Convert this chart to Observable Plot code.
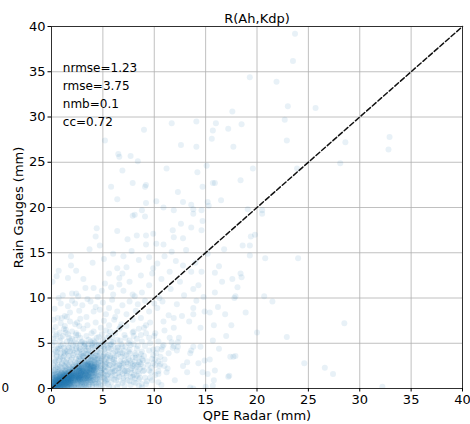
<!DOCTYPE html>
<html>
<head>
<meta charset="utf-8">
<script src="https://cdn.jsdelivr.net/npm/d3@7"></script>
<script src="https://cdn.jsdelivr.net/npm/@observablehq/plot@0.6"></script>
<style>
  body { margin: 0; background: #fff; }
  svg { font-family: "DejaVu Sans", sans-serif; }
</style>
</head>
<body>
<div id="chart"></div>
<script>
// Radar QPE (x, mm) against rain-gauge totals (y, mm), as [radar, gauge] pairs.

// dense core near the origin
const pointsCore = [
  [0.1,0.1],[0.2,0.3],[0.3,0.1],[0.4,0.5],[0.5,0.2],[0.6,0.7],[0.7,0.3],[0.8,0.9],[0.9,0.4],[1.0,0.6],
  [1.1,1.0],[1.2,0.5],[1.3,0.8],[1.4,1.2],[1.5,0.7],[1.6,1.1],[1.7,0.4],[1.8,1.3],[1.9,0.9],[2.0,1.5],
  [0.1,0.6],[0.2,0.9],[0.3,1.2],[0.4,0.2],[0.5,1.0],[0.6,0.3],[0.7,1.1],[0.8,0.5],[0.9,1.3],[1.0,0.2],
  [1.1,0.4],[1.2,1.4],[1.3,0.3],[1.4,0.9],[1.5,1.5],[1.6,0.6],[1.7,1.2],[1.8,0.8],[1.9,1.6],[2.0,0.7],
  [0.0,0.0],[0.1,0.3],[0.2,0.0],[0.3,0.6],[0.4,0.8],[0.5,0.5],[0.6,0.0],[0.7,0.6],[0.8,0.2],[0.9,0.8],
  [1.0,1.1],[1.1,0.7],[1.2,0.2],[1.3,1.1],[1.4,0.5],[1.5,1.0],[1.6,0.3],[1.7,0.9],[1.8,0.5],[1.9,1.2],
  [0.2,0.5],[0.3,0.8],[0.4,1.0],[0.5,0.7],[0.6,1.3],[0.7,0.9],[0.8,1.2],[0.9,0.6],[1.0,0.9],[1.1,1.3],
  [1.2,0.8],[1.3,0.5],[1.4,0.7],[1.5,1.2],[1.6,0.9],[1.7,1.5],[1.8,1.0],[1.9,0.6],[2.0,1.1],[2.1,1.4],
  [0.1,1.0],[0.2,1.4],[0.3,0.4],[0.4,1.6],[0.5,1.3],[0.6,1.8],[0.7,0.1],[0.8,1.5],[0.9,1.0],[1.0,1.7],
  [1.1,1.9],[1.2,1.1],[1.3,1.6],[1.4,1.9],[1.5,0.4],[1.6,1.4],[1.7,0.7],[1.8,1.7],[1.9,1.4],[2.0,1.8],
  [0.3,0.2],[0.5,0.9],[0.7,0.4],[0.9,0.2],[1.1,0.2],[1.3,0.9],[1.5,0.6],[1.7,1.0],[1.9,0.3],[2.1,0.9],
  [0.4,0.4],[0.6,0.5],[0.8,0.7],[1.0,0.4],[1.2,0.6],[1.4,0.3],[1.6,0.8],[1.8,1.1],[2.0,0.5],[2.2,1.2],
  [0.0,0.4],[0.0,0.8],[0.0,1.2],[0.1,1.5],[0.0,0.2],[0.2,1.1],[0.3,1.7],[0.0,1.9],[0.1,2.3],[0.2,0.7],
  [0.5,0.0],[0.9,0.0],[1.3,0.0],[1.7,0.0],[0.3,0.0],[1.1,0.0],[1.5,0.1],[2.0,0.1],[0.8,0.1],[1.9,0.0],
  [0.15,0.45],[0.25,0.75],[0.35,1.05],[0.45,0.15],[0.55,0.55],[0.65,0.95],[0.75,1.35],[0.85,0.25],[0.95,0.65],[1.05,1.45],
  [1.15,0.85],[1.25,0.35],[1.35,1.25],[1.45,0.65],[1.55,1.75],[1.65,0.15],[1.75,1.15],[1.85,0.45],[1.95,1.85],[2.05,0.95],
  [2.15,1.55],[2.25,0.45],[2.35,1.25],[2.45,2.05],[2.55,0.85],[2.65,1.75],[2.75,0.55],[2.85,2.25],[2.95,1.05],[2.05,2.35],
  [0.12,0.18],[0.28,0.52],[0.38,0.88],[0.48,1.22],[0.58,0.32],[0.68,0.62],[0.78,1.02],[0.88,1.58],[0.98,0.38],[1.08,0.78],
  [1.18,1.18],[1.28,1.68],[1.38,0.22],[1.48,0.92],[1.58,1.32],[1.68,2.02],[1.78,0.62],[1.88,1.02],[1.98,1.42],[2.08,1.72],
  [2.18,0.32],[2.28,0.82],[2.38,1.62],[2.48,0.62],[2.58,1.12],[2.68,2.22],[2.78,1.42],[2.88,0.92],[2.98,1.62],[3.08,0.72],
  [0.05,0.55],[0.05,1.05],[0.05,1.55],[0.15,1.25],[0.25,1.65],[0.35,2.05],[0.45,1.45],[0.55,1.85],[0.65,2.15],[0.75,1.65],
  [0.85,2.05],[0.95,1.75],[1.05,2.25],[1.15,1.55],[1.25,2.05],[1.35,2.45],[1.45,1.45],[1.55,2.15],[1.65,1.65],[1.75,2.35],
  [0.42,0.62],[0.62,0.82],[0.82,1.12],[1.02,0.52],[1.22,0.92],[1.42,1.32],[1.62,0.72],[1.82,1.52],[2.02,1.22],[2.22,1.92],
  [0.32,0.32],[0.52,0.12],[0.72,0.52],[0.92,0.92],[1.12,0.32],[1.32,0.62],[1.52,0.22],[1.72,0.52],[1.92,0.82],[2.12,0.62],
  [2.32,1.02],[2.52,1.42],[2.72,1.02],[2.92,1.32],[3.12,1.92],[3.22,1.42],[3.32,0.92],[3.42,1.22],[3.52,2.02],[3.62,1.52],
  [0.18,0.08],[0.48,0.05],[0.78,0.06],[1.08,0.08],[1.38,0.05],[1.68,0.08],[1.98,0.05],[2.28,0.08],[2.58,0.05],[2.88,0.12],
  [1.12,1.62],[1.32,1.92],[1.52,1.62],[1.72,1.82],[1.92,2.12],[2.12,2.42],[2.32,2.12],[2.52,2.52],[2.72,1.92],[2.92,2.62],
  [0.58,1.58],[0.78,1.88],[0.98,1.28],[1.18,1.48],[1.38,1.72],[1.58,1.02],[1.78,1.38],[1.98,1.68],[2.18,1.12],[2.38,1.48],
  [0.22,2.02],[0.42,2.32],[0.62,2.62],[0.82,2.42],[1.02,2.82],[1.22,2.52],[1.42,2.92],[1.62,2.62],[1.82,2.22],[2.02,2.72],
  [0.55,0.35],[0.85,0.55],[1.15,0.75],[1.45,0.95],[1.75,1.25],[2.05,1.45],[2.35,1.65],[2.65,1.95],[2.95,2.15],[3.25,2.35],
  [3.55,2.55],[3.85,2.65],[4.15,2.55],[4.45,2.35],[0.65,0.45],[0.95,0.75],[1.25,1.05],[1.55,1.25],[1.85,1.35],[2.15,1.75],
  [2.45,1.85],[2.75,2.05],[3.05,1.55],[3.35,1.65],[3.65,1.85],[3.95,1.75],[4.25,2.05],[0.75,0.75],[1.05,1.05],[1.35,1.45],
  [1.65,1.05],[1.95,1.15],[2.25,1.35],[2.55,1.55],[2.85,1.75],[3.15,1.85],[3.45,2.05],[3.75,2.15],[4.05,1.95],[4.35,1.75],
  [0.45,0.95],[0.75,1.25],[1.05,0.95],[1.35,0.75],[1.65,0.55],[1.95,0.75],[2.25,0.95],[2.55,1.25],[2.85,1.25],[3.15,1.05],
  [3.45,1.35],[3.75,1.05],[4.05,1.25],[4.35,1.45],[0.55,1.15],[0.85,0.85],[1.15,1.15],[1.45,1.55],[1.75,1.85],[2.05,2.05],
  [2.35,2.25],[2.65,2.45],[2.95,2.45],[3.25,2.65],[3.55,2.75],[3.85,2.45],[4.15,2.25],[0.95,0.45],[1.25,0.55],[1.55,0.45],
  [1.85,0.65],[2.15,0.75],[2.45,0.95],[2.75,0.75],[3.05,1.25],[3.35,0.75],[3.65,0.95],[3.95,0.85],[4.25,0.75],[4.55,0.55],
  [0.25,0.25],[0.45,0.65],[0.65,1.05],[0.85,1.45],[1.05,1.25],[1.25,1.35],[1.45,1.15],[1.65,1.35],[1.85,1.55],[2.05,1.25],
  [2.25,1.55],[2.45,1.35],[2.65,1.15],[2.85,1.45],[3.05,1.95],[3.25,1.75],[3.45,1.15],[3.65,2.25],[3.85,2.05],[4.05,2.35]
];

// band just beyond the core, x 2–5.5
const pointsBand = [
  [2.2,1.6],[2.3,0.9],[2.4,1.9],[2.5,1.3],[2.6,2.1],[2.7,1.0],[2.8,1.7],[2.9,2.4],[3.0,1.4],[3.1,2.0],
  [3.2,0.8],[3.3,2.6],[3.4,1.6],[3.5,2.2],[3.6,1.1],[3.7,2.9],[3.8,1.9],[3.9,2.5],[4.0,1.3],[4.1,3.1],
  [2.2,0.6],[2.3,2.2],[2.4,1.2],[2.5,0.5],[2.6,1.6],[2.7,2.5],[2.8,1.1],[2.9,0.7],[3.0,2.3],[3.1,1.5],
  [3.2,2.8],[3.3,1.2],[3.4,0.6],[3.5,1.8],[3.6,2.6],[3.7,1.4],[3.8,0.9],[3.9,3.2],[4.0,2.1],[4.2,1.7],
  [2.3,1.4],[2.5,1.8],[2.7,1.3],[2.9,1.9],[3.1,1.1],[3.3,2.0],[3.5,1.4],[3.7,2.2],[3.9,1.6],[4.1,2.4],
  [2.4,0.3],[2.6,0.9],[2.8,2.0],[3.0,0.5],[3.2,1.7],[3.4,2.4],[3.6,0.7],[3.8,2.4],[4.0,0.6],[4.3,2.8],
  [2.1,2.1],[2.2,2.6],[2.4,2.8],[2.6,3.0],[2.8,2.7],[3.0,3.1],[3.2,3.4],[3.4,3.0],[3.6,3.3],[3.8,3.6],
  [2.2,0.2],[2.5,0.1],[2.8,0.3],[3.1,0.2],[3.4,0.1],[3.7,0.4],[4.0,0.2],[4.3,0.5],[4.5,1.0],[4.4,1.9],
  [2.5,2.2],[2.7,1.9],[2.9,1.5],[3.1,2.6],[3.3,1.5],[3.5,2.7],[3.7,1.8],[3.9,2.1],[4.2,2.3],[4.4,3.2],
  [2.3,1.1],[2.6,1.4],[2.9,1.2],[3.2,2.1],[3.5,1.0],[3.8,1.3],[4.1,1.0],[4.6,2.6],[4.8,1.5],[4.5,3.6],
  [2.2,1.8],[2.4,1.5],[2.6,2.4],[2.8,1.4],[3.0,1.8],[3.2,1.2],[3.4,1.9],[3.6,1.7],[3.8,2.8],[4.0,2.6],
  [2.55,1.95],[2.75,2.35],[2.95,2.05],[3.15,2.45],[3.35,1.75],[3.55,2.35],[3.75,1.65],[3.95,2.75],[4.15,1.85],[4.35,2.45],
  [4.55,1.55],[4.75,2.25],[4.95,1.25],[5.15,2.05],[5.35,1.45],[4.25,1.25],[4.05,0.95],[3.85,1.15],[3.65,0.45],[3.45,0.85],
  [3.25,0.45],[3.05,0.95],[2.85,0.65],[2.65,0.35],[2.55,1.05],[2.75,1.55],[2.95,1.85],[3.15,1.35],[3.35,2.25],[3.55,1.55],
  [3.75,2.55],[3.95,1.95],[4.15,2.95],[4.35,2.15],[4.55,2.85],[4.75,1.95],[4.95,2.65],[5.15,3.05],[5.35,2.35],[5.45,1.05],
  [2.62,2.72],[2.82,3.12],[3.02,2.82],[3.22,3.02],[3.42,2.62],[3.62,2.92],[3.82,3.22],[4.02,3.42],[4.22,3.12],[4.42,2.62],
  [4.62,3.32],[4.82,2.82],[5.02,3.52],[5.22,2.72],[3.12,3.62],[3.52,3.82],[3.92,3.92],[4.32,3.62],[4.72,3.92],[2.72,3.52],
  [3.18,0.18],[3.58,0.22],[3.98,0.38],[4.38,0.18],[4.78,0.42],[5.18,0.62],[4.58,0.72],[4.18,0.58],[3.78,0.68],[3.38,0.32],
  [4.48,1.38],[4.68,1.08],[4.88,1.78],[5.08,1.58],[5.28,0.88],[4.28,1.62],[4.08,1.52],[3.88,2.28],[3.68,2.02],[3.48,2.52],
  [2.68,1.22],[2.88,1.68],[3.08,2.18],[3.28,1.08],[3.48,1.42],[3.68,1.28],[3.88,1.72],[4.08,2.32],[4.28,2.72],[4.48,2.22],
  [2.58,0.72],[2.78,0.92],[2.98,0.32],[3.18,0.62],[3.38,1.88],[3.58,1.18],[3.78,2.72],[3.98,1.42],[4.18,2.02],[4.38,1.08]
];

// halo around the core, up to about 7 mm
const pointsHalo = [
  [0.2,2.6],[0.4,3.0],[0.6,2.4],[0.8,3.3],[1.0,2.7],[1.2,3.6],[1.4,2.3],[1.6,3.9],[1.8,2.9],[2.0,3.4],
  [0.1,3.8],[0.3,4.3],[0.5,3.5],[0.7,4.6],[0.9,3.9],[1.1,4.9],[1.3,4.2],[1.5,5.2],[1.7,4.5],[1.9,5.0],
  [0.2,5.5],[0.5,6.0],[0.8,5.3],[1.1,5.8],[1.4,6.2],[1.7,5.6],[2.0,6.3],[2.3,5.4],[2.6,5.9],[2.9,5.1],
  [2.2,3.9],[2.4,4.4],[2.6,3.6],[2.8,4.9],[3.0,4.1],[3.2,4.7],[3.4,3.8],[3.6,4.5],[3.8,5.2],[4.0,4.0],
  [4.2,4.6],[4.4,3.7],[4.6,5.0],[4.8,4.2],[5.0,5.4],[5.2,3.9],[5.4,4.8],[5.6,5.8],[5.8,4.4],[6.0,5.1],
  [4.7,0.8],[4.9,2.1],[5.1,1.2],[5.3,2.9],[5.5,0.5],[5.7,1.8],[5.9,3.3],[6.1,1.0],[6.3,2.5],[6.5,3.8],
  [4.6,0.2],[5.0,0.3],[5.4,1.5],[5.8,0.7],[6.2,2.0],[6.6,1.3],[7.0,2.8],[7.4,0.9],[7.8,2.2],[8.2,3.4],
  [5.2,2.4],[5.6,3.1],[6.0,2.7],[6.4,4.2],[6.8,3.5],[7.2,4.6],[7.6,3.1],[8.0,4.9],[8.4,2.6],[8.8,4.1],
  [0.3,3.2],[0.6,4.0],[0.9,4.7],[1.2,3.1],[1.5,3.3],[1.8,4.1],[2.1,4.8],[2.4,3.3],[2.7,4.2],[3.0,3.6],
  [3.3,4.4],[3.6,3.9],[3.9,4.5],[4.2,3.4],[4.5,4.4],[4.8,3.1],[5.1,4.6],[5.4,3.5],[5.7,2.6],[6.0,3.9],
  [5.5,2.2],[5.7,3.6],[5.9,1.4],[6.1,2.9],[6.3,0.9],[6.5,2.2],[6.7,4.0],[6.9,1.6],[7.1,3.1],[7.3,2.4],
  [7.5,4.1],[7.7,1.3],[7.9,3.4],[8.1,2.0],[8.3,4.4],[8.5,1.6],[8.7,3.8],[8.9,2.4],[9.1,1.2],[9.3,3.0],
  [9.5,4.2],[9.7,1.8],[9.9,3.7],[10.1,2.6],[10.3,4.4],[5.6,4.2],[6.0,4.7],[6.4,5.4],[6.8,4.9],[7.2,5.6],
  [7.6,5.3],[8.0,5.8],[8.4,4.7],[8.8,5.2],[9.2,6.1],[9.6,5.0],[10.0,5.8],[5.2,5.1],[4.6,5.7],[4.1,5.3],
  [3.6,5.4],[3.2,5.0],[2.8,5.6],[2.4,6.1],[2.0,5.5],[1.6,6.0],[1.2,6.6],[0.8,6.2],[0.4,5.8],[0.1,6.4],
  [0.1,4.8],[0.3,5.1],[0.6,4.4],[0.9,5.6],[1.2,4.5],[1.5,4.1],[1.8,5.3],[2.1,4.2],[2.4,5.0],[2.7,4.5],
  [3.0,5.2],[3.3,4.9],[3.6,4.2],[3.9,4.8],[4.2,5.1],[4.5,4.1],[4.8,4.7],[5.1,4.3],[5.4,5.6],[5.8,5.2],
  [5.3,0.8],[5.6,0.2],[5.9,2.1],[6.2,1.5],[6.5,0.5],[6.8,2.8],[7.1,0.3],[7.4,1.9],[7.7,2.8],[8.0,0.7],
  [8.3,1.4],[8.6,2.2],[8.9,3.1],[9.2,0.5],[9.5,2.0],[9.8,0.9],[10.1,3.2],[10.4,1.9],[10.7,0.4],[11.0,2.5],
  [4.9,3.6],[5.3,3.3],[5.7,4.8],[6.1,3.4],[6.5,4.6],[6.9,2.2],[7.3,3.7],[7.7,4.8],[8.1,3.0],[8.5,3.5],
  [3.1,3.9],[3.4,4.2],[3.7,3.5],[4.0,4.6],[4.3,3.9],[4.6,4.8],[4.9,3.3],[5.2,4.4],[5.5,3.7],[5.8,4.9],
  [6.1,3.2],[6.4,4.5],[6.7,3.0],[7.0,4.2],[7.3,2.9],[7.6,3.9],[7.9,2.5],[8.2,3.7],[8.5,2.9],[8.8,3.3],
  [3.3,2.9],[3.6,3.1],[3.9,3.5],[4.2,2.9],[4.5,3.3],[4.8,2.5],[5.1,3.7],[5.4,2.8],[5.7,3.4],[6.0,2.3],
  [6.3,3.6],[6.6,2.6],[6.9,3.9],[7.2,2.0],[7.5,3.3],[7.8,1.7],[8.1,2.6],[8.4,1.9],[8.7,2.7],[9.0,2.0],
  [4.4,2.4],[4.7,3.0],[5.0,2.2],[5.3,1.9],[5.6,2.6],[5.9,1.8],[6.2,2.8],[6.5,1.7],[6.8,2.5],[7.1,1.9],
  [7.4,2.7],[7.7,2.1],[8.0,1.5],[8.3,2.4],[8.6,1.2],[4.6,1.3],[4.9,1.7],[5.2,1.0],[5.5,1.6],[5.8,1.2],
  [6.1,1.9],[6.4,1.2],[6.7,1.8],[7.0,0.9],[7.3,1.4],[7.6,0.8],[7.9,1.3],[8.2,0.6],[8.5,1.0],[8.8,0.5],
  [0.3,2.9],[0.7,3.1],[1.1,3.4],[1.5,2.8],[1.9,3.2],[2.3,2.9],[2.7,3.3],[3.1,3.5],[0.5,3.7],[0.9,3.5],
  [1.3,3.9],[1.7,3.6],[2.1,3.7],[2.5,4.0],[2.9,3.8],[0.4,4.1],[0.8,4.4],[1.2,4.0],[1.6,4.6],[2.0,4.4],
  [2.4,4.7],[2.8,4.3],[3.2,4.6],[3.6,4.9],[4.0,5.0],[4.4,4.8],[5.0,4.9],[5.5,4.5],[6.2,4.1],[6.9,4.6]
];

// thinner spread out to about 19 mm
const pointsSpread = [
  [6.4,0.2],[6.9,0.6],[7.3,1.7],[7.7,0.4],[8.1,1.1],[8.5,0.3],[8.9,1.9],[9.3,0.8],[9.7,2.3],[10.1,1.5],
  [6.7,5.3],[7.1,5.9],[7.5,5.0],[7.9,6.2],[8.3,5.5],[8.7,5.9],[9.1,4.7],[9.5,5.6],[9.9,4.3],[10.4,5.2],
  [6.2,6.1],[6.6,6.6],[5.9,5.7],[5.3,6.4],[4.9,6.0],[4.4,5.6],[3.9,6.1],[3.4,5.8],[3.1,6.6],[2.7,6.9],
  [8.6,2.9],[9.0,3.6],[9.4,2.6],[9.8,3.3],[10.2,3.9],[10.6,2.7],[11.0,3.2],[8.1,3.9],[7.6,4.3],[7.1,3.6],
  [0.4,6.8],[0.9,7.2],[1.3,6.9],[1.8,7.4],[2.3,7.1],[0.2,7.6],[1.5,7.9],[2.8,7.7],[3.5,7.0],[4.3,7.3],
  [6.8,7.1],[7.3,6.9],[8.5,6.6],[9.2,7.0],[5.1,7.5],[5.6,7.0],[6.1,7.6],[10.8,4.6],[11.5,5.6],[12.3,5.1],
  [7.0,1.2],[7.9,2.7],[8.8,0.1],[9.6,1.2],[10.4,0.7],[11.2,1.8],[12.0,0.9],[12.8,2.5],[6.0,0.1],[6.6,2.3],
  [0.3,8.8],[0.9,9.4],[1.3,8.0],[2.0,9.7],[2.7,8.6],[3.0,9.2],[3.8,9.6],[4.3,9.0],[5.0,9.5],[5.3,8.2],
  [5.9,9.8],[6.2,7.9],[6.9,9.2],[7.6,9.6],[7.9,7.6],[8.4,9.3],[9.1,9.7],[9.6,7.3],[10.0,9.4],[10.5,10.0],
  [1.1,10.3],[2.6,10.2],[3.3,11.1],[4.5,10.1],[5.2,11.6],[6.0,10.4],[6.6,11.5],[7.6,11.8],[8.8,10.6],[9.5,11.4],
  [0.1,11.8],[0.5,12.4],[2.4,13.0],[3.1,12.1],[4.0,13.9],[5.1,14.3],[6.0,14.9],[7.0,14.6],[7.8,15.2],[9.5,14.5],
  [10.3,13.8],[11.0,14.6],[12.1,14.1],[13.1,15.3],[11.5,12.9],[12.5,11.8],[14.0,13.9],[15.2,14.9],[16.3,13.5],[16.8,15.4],
  [10.8,9.6],[11.4,8.1],[12.2,9.3],[12.9,10.3],[13.4,7.4],[14.1,9.7],[14.8,10.1],[15.4,8.4],[16.2,9.0],[16.6,11.8],
  [17.0,5.8],[16.3,4.4],[14.9,3.1],[13.2,2.9],[12.4,5.6],[11.7,5.1],[10.9,4.8],[16.9,8.2],[17.6,12.1],[18.9,8.4]
];

// scattered outliers across the rest of the panel
const pointsSparse = [
  [17.6,30.6],[9.0,28.6],[11.7,29.3],[14.1,29.5],[16.0,29.3],[15.7,28.5],[17.2,28.7],[15.6,27.6],[5.2,27.4],[12.6,26.9],
  [14.1,26.7],[17.7,26.7],[6.5,25.9],[6.6,25.6],[7.7,25.7],[8.4,25.1],[6.9,24.1],[11.2,24.3],[15.1,24.6],[14.2,23.9],
  [5.8,22.3],[7.9,22.7],[9.2,22.5],[9.1,22.3],[12.3,21.7],[14.7,22.3],[15.7,22.7],[15.9,22.7],[6.4,20.9],[9.2,20.5],
  [10.2,20.7],[12.8,20.6],[13.6,20.3],[15.2,20.6],[16.5,20.8],[10.9,20.0],[11.9,19.7],[8.8,19.7],[13.8,19.8],[14.6,19.7],
  [15.3,20.2],[23.7,39.2],[23.5,36.2],[19.3,34.4],[21.9,33.9],[23.0,31.2],[25.7,31.0],[22.7,29.7],[18.5,29.2],[32.9,27.8],
  [22.9,27.4],[28.6,27.2],[32.8,26.4],[28.1,24.9],[19.6,24.3],[23.9,24.3],[18.4,23.0],[19.1,19.8],[20.5,19.7],[20.5,19.3],
  [19.4,16.8],[19.8,17.0],[18.6,15.8],[19.3,15.8],[19.3,14.7],[20.8,14.4],[24.0,14.4],[18.4,12.7],[18.5,12.3],[18.1,11.2],
  [20.7,10.2],[21.5,9.6],[17.9,10.2],[17.8,10.0],[28.5,7.2],[20.0,6.2],[22.9,5.7],[17.9,3.6],[24.6,2.8],[26.6,2.3],
  [27.4,1.6],[32.2,0.2],[7.9,19.1],[8.1,19.2],[9.1,19.0],[4.4,17.7],[4.3,16.8],[6.4,17.4],[7.4,16.5],[8.3,16.9],
  [9.2,16.9],[9.9,17.1],[10.2,16.0],[9.2,15.9],[10.9,15.9],[11.7,15.1],[11.9,16.7],[12.8,16.6],[11.8,17.5],[12.6,18.2],
  [13.6,17.8],[14.6,17.5],[14.7,18.5],[13.8,19.3],[3.7,15.4],[1.9,13.6],[1.6,12.2],[0.7,13.0],[1.9,14.6],[4.7,15.8],
  [5.6,12.7],[6.4,13.3],[7.3,13.4],[6.9,12.7],[6.6,12.2],[8.5,14.2],[8.7,12.5],[9.8,12.7],[9.9,13.3],[10.7,12.1],
  [11.6,11.0],[12.8,13.6],[13.6,12.9],[14.6,12.9],[15.9,12.8],[13.8,11.0],[14.3,11.4],[15.9,10.6],[5.8,11.2],[7.0,10.8],
  [7.9,10.4],[8.1,10.2],[2.0,10.5],[2.4,10.5],[4.1,11.1],[4.9,10.8],[0.7,10.0],[1.6,9.1],[2.3,9.4],[3.5,9.9],
  [0.6,7.8],[1.0,7.8],[1.8,8.4],[2.5,7.3],[3.4,7.9],[4.1,8.5],[4.7,8.7],[5.6,8.9],[6.4,8.5],[7.3,8.2],
  [8.2,8.6],[8.7,7.8],[9.5,8.5],[10.3,8.9],[10.9,7.4],[11.9,7.8],[12.7,8.0],[13.8,8.9],[13.8,8.2],[14.9,8.5],
  [15.8,7.0],[14.5,6.7],[11.9,6.7],[11.0,6.4],[10.1,6.1],[9.0,6.7],[8.0,6.3],[6.7,6.8],[5.7,6.3],[4.8,6.7],
  [1.4,6.5],[2.4,5.9],[4.1,6.3],[15.7,5.3],[14.5,4.6],[13.6,4.2],[11.9,4.7],[12.2,4.2],[11.4,3.9],[10.6,3.5],
  [9.9,2.8],[11.3,2.2],[15.2,1.6],[15.9,2.0],[13.8,0.0],[15.0,0.2],[15.8,0.9],[17.2,1.3],[17.5,7.0],[17.4,3.5],
  [10.7,4.3],[11.8,4.5],[12.3,4.6],[13.8,4.6],[13.5,3.9],[14.3,2.8],[15.4,3.2],[17.7,3.5],[14.7,1.8],[13.2,1.8],
  [17.3,1.4],[15.7,0.3],[13.5,0.1],[10.4,3.0],[10.5,2.5],[10.4,1.6]
];

const ticks = [0, 5, 10, 15, 20, 25, 30, 35, 40];
const diagonal = [0, 40];
const title = "R(Ah,Kdp)";
const stats = ["nrmse=1.23", "rmse=3.75", "nmb=0.1", "cc=0.72"];

const points = [...pointsCore, ...pointsBand, ...pointsHalo, ...pointsSpread, ...pointsSparse]
  .map(([radar, gauge]) => ({radar, gauge}));

const chart = Plot.plot({
  width: 470,
  height: 424,
  marginLeft: 51,
  marginRight: 8,
  marginTop: 26,
  marginBottom: 36,
  style: {fontFamily: "DejaVu Sans, sans-serif", fontSize: "13px", color: "#000", background: "#fff"},
  x: {domain: [0, 40]},
  y: {domain: [0, 40]},
  marks: [
    Plot.gridX(ticks, {stroke: "#b0b0b0", strokeOpacity: 1, strokeWidth: 0.8}),
    Plot.gridY(ticks, {stroke: "#b0b0b0", strokeOpacity: 1, strokeWidth: 0.8}),
    Plot.dot(points, {x: "radar", y: "gauge", r: 3, fill: "#1f77b4", fillOpacity: 0.1, clip: true}),
    Plot.line(diagonal, {x: d => d, y: d => d, stroke: "#111", strokeWidth: 1.5, strokeDasharray: "5,2.5"}),
    Plot.frame({stroke: "#222", strokeWidth: 0.9}),
    Plot.axisX(ticks, {tickSize: 3.5, tickPadding: 3, label: "QPE Radar (mm)", labelAnchor: "center", labelArrow: "none", labelOffset: 31}),
    Plot.axisY(ticks, {tickSize: 3.5, tickPadding: 2.5, label: "Rain Gauges (mm)", labelAnchor: "center", labelArrow: "none", labelOffset: 38}),
    Plot.text([title], {frameAnchor: "top", dy: -13, fontSize: 13}),
    Plot.text([stats.join("\n")], {x: 1.1, y: 32.6, textAnchor: "start", lineAnchor: "middle", lineHeight: 1.5, fontSize: 12}),
    Plot.text(["0"], {frameAnchor: "bottom-left", dx: -50, dy: 3, fontSize: 12})
  ]
});

document.getElementById("chart").appendChild(chart);
</script>
</body>
</html>
